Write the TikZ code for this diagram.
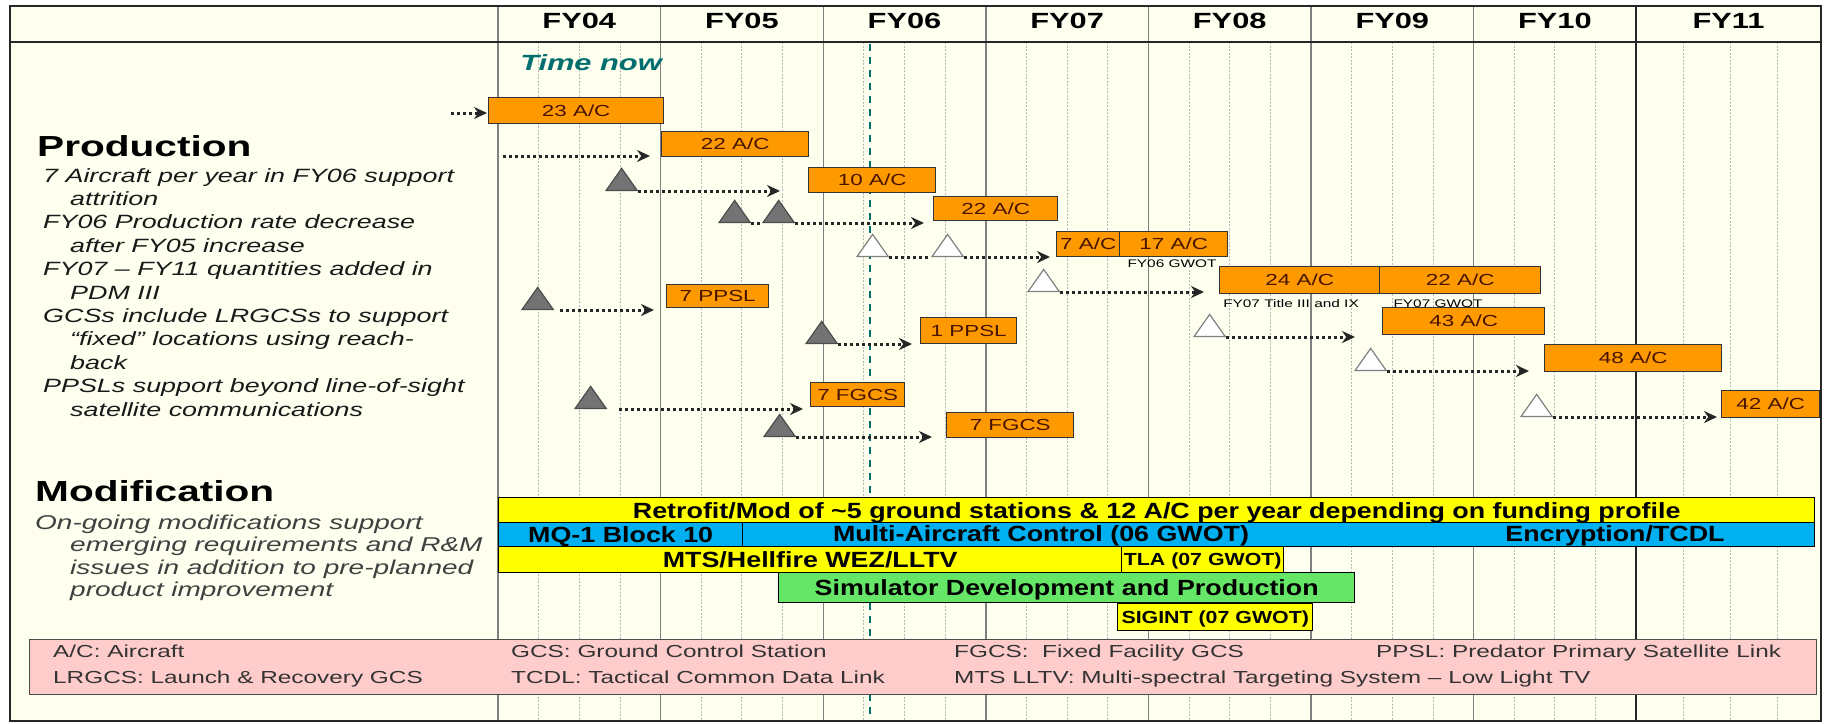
\documentclass[tikz,border=0pt]{standalone}
\usepackage{fontspec}
\setmainfont{Liberation Sans}[FakeStretch=1.4]
\newfontfamily\barfont{Liberation Sans}[FakeStretch=1.22]
\usepackage{tikz}
\usetikzlibrary{arrows.meta}
\usetikzlibrary{shapes.geometric}
\definecolor{chartbg}{RGB}{255,255,240}
\definecolor{barorange}{RGB}{255,153,0}
\definecolor{boxtext}{RGB}{70,20,0}
\definecolor{nowteal}{RGB}{0,110,110}
\definecolor{modyellow}{RGB}{255,255,0}
\definecolor{modblue}{RGB}{0,176,240}
\definecolor{modgreen}{RGB}{102,230,102}
\definecolor{keypink}{RGB}{255,204,204}

\begin{document}
\begin{tikzpicture}[x=1pt, y=-1pt,
    acbox/.style={draw=black!80, line width=1.4pt, fill=barorange, anchor=north west, inner sep=0pt, text=boxtext, text height=11.5pt, text depth=0pt, font=\fontsize{16}{18}\selectfont},
    modbar/.style={draw=black, line width=1.4pt, anchor=north west, inner sep=0pt, text height=15.7pt, text depth=0pt, font=\barfont\bfseries\fontsize{22}{24}\selectfont},
    smallbar/.style={modbar, text height=12.5pt, font=\barfont\bfseries\fontsize{17.5}{19}\selectfont},
    bartext/.style={inner sep=0pt, text height=15.7pt, text depth=0pt, font=\barfont\bfseries\fontsize{22}{24}\selectfont},
    darktri/.style={isosceles triangle, shape border rotate=90, isosceles triangle stretches, minimum width=31pt, minimum height=22pt, inner sep=0pt, anchor=left corner, line width=1.2pt, draw=black!70, fill=black!55},
    whitetri/.style={darktri, draw=black!50, fill=white},
    flow/.style={-{Stealth[length=13pt,width=12pt]}, line width=3pt, dash pattern=on 3pt off 3pt, draw=black!85},
    link/.style={line width=3pt, dash pattern=on 3pt off 3pt, draw=black!85},
    yearline/.style={draw=black!50, line width=1.4pt},
    qline/.style={draw=black!28, line width=0.9pt, dash pattern=on 2pt off 1.5pt},
    yearlabel/.style={inner sep=0pt, text height=15.7pt, text depth=0pt, font=\bfseries\fontsize{22}{24}\selectfont},
    note/.style={inner sep=0pt, text height=7.9pt, text depth=0pt, font=\fontsize{11}{12}\selectfont},
    keytext/.style={anchor=west, inner sep=0pt, text height=12.5pt, text depth=0pt, text=black!80, font=\fontsize{17.4}{19}\selectfont},
    heading/.style={anchor=base west, inner sep=0pt, font=\bfseries\fontsize{29}{32}\selectfont},
    ]
    \useasboundingbox (0,0) rectangle (1828,723);
    \fill[white] (0,0) rectangle (1828,723);
    \fill[chartbg] (10,6) rectangle (1821,721);

    \foreach \k in {0,...,6}
        \foreach \q in {1,2,3}
            \draw[qline] ({498+162.6*\k+40.65*\q},42) -- ++(0,679);
    \foreach \q in {1,2,3}
        \draw[qline] ({1636+47*\q},42) -- ++(0,679);
    \foreach \k in {0,...,7}
        \draw[yearline] ({498+162.6*\k},6) -- ++(0,715);
    \draw[line width=2.4pt, draw=black!85] (1636,6) -- (1636,721);
    \draw[line width=2pt, draw=black!85] (10,42) -- (1821,42);
    \draw[nowteal, line width=2pt, dash pattern=on 7pt off 6pt] (870,44) -- (870,721);

    \foreach \yr [count=\k from 0] in {FY04,FY05,FY06,FY07,FY08,FY09,FY10}
        \node[yearlabel] (\yr) at ({579.3+162.6*\k},21) {\yr};
    \node[yearlabel] (FY11) at (1728.5,21) {FY11};
    \node[anchor=base, inner sep=0pt, text=nowteal, font=\bfseries\itshape\fontsize{22}{24}\selectfont] (now) at (591,70) {Time now};

    \node[heading] (prod) at (37,156) {Production};
    \node[anchor=north west, inner sep=0pt, align=left, text=black!90, font=\itshape\fontsize{19.2}{23.4}\selectfont] (prodnotes) at (43,168)
        {7 Aircraft per year in FY06 support\\
         \hspace*{27pt}attrition\\
         FY06 Production rate decrease\\
         \hspace*{27pt}after FY05 increase\\
         FY07 -- FY11 quantities added in\\
         \hspace*{27pt}PDM III\\
         GCSs include LRGCSs to support\\
         \hspace*{27pt}“fixed” locations using reach-\\
         \hspace*{27pt}back\\
         PPSLs support beyond line-of-sight\\
         \hspace*{27pt}satellite communications};
    \node[heading] (mod) at (35,501) {Modification};
    \node[anchor=north west, inner sep=0pt, align=left, text=black!75, font=\itshape\fontsize{20}{22.2}\selectfont] (modnotes) at (35,515)
        {On-going modifications support\\
         \hspace*{35pt}emerging requirements and R\&M\\
         \hspace*{35pt}issues in addition to pre-planned\\
         \hspace*{35pt}product improvement};

    \node[acbox, minimum width=175pt, minimum height=26pt] (b1) at (488,97) {23 A/C};
    \node[acbox, minimum width=147pt, minimum height=25pt] (b2) at (661,131) {22 A/C};
    \node[acbox, minimum width=127pt, minimum height=25pt] (b3) at (808,167) {10 A/C};
    \node[acbox, minimum width=124pt, minimum height=24pt] (b4) at (933,196) {22 A/C};
    \node[acbox, minimum width=63pt, minimum height=25pt] (b5) at (1056,231) {7 A/C};
    \node[acbox, minimum width=108pt, minimum height=25pt] (b6) at (1119,231) {17 A/C};
    \node[acbox, minimum width=160pt, minimum height=27pt] (b7) at (1219,266) {24 A/C};
    \node[acbox, minimum width=161pt, minimum height=27pt] (b8) at (1379,266) {22 A/C};
    \node[acbox, minimum width=162pt, minimum height=27pt] (b9) at (1382,307) {43 A/C};
    \node[acbox, minimum width=177pt, minimum height=27pt] (b10) at (1544,344) {48 A/C};
    \node[acbox, minimum width=98pt, minimum height=27pt] (b11) at (1721,390) {42 A/C};
    \node[acbox, minimum width=102pt, minimum height=23pt] (p1) at (666,284) {7 PPSL};
    \node[acbox, minimum width=96pt, minimum height=26pt] (p2) at (920,317) {1 PPSL};
    \node[acbox, minimum width=94pt, minimum height=24pt] (f1) at (810,382) {7 FGCS};
    \node[acbox, minimum width=127pt, minimum height=25pt] (f2) at (946,412) {7 FGCS};

    \node[note] (gwot6) at (1172,264) {FY06 GWOT};
    \node[note] (title7) at (1291,304) {FY07 Title III and IX};
    \node[note] (gwot7) at (1438,304) {FY07 GWOT};

    \node[darktri] (t1) at (605,191) {};
    \node[darktri] (t2a) at (718,223) {};
    \node[darktri] (t2b) at (762,223) {};
    \node[whitetri] (w1a) at (856,257) {};
    \node[whitetri] (w1b) at (931,257) {};
    \node[whitetri] (w2) at (1027,292) {};
    \node[whitetri] (w3) at (1193,337) {};
    \node[whitetri] (w4) at (1354,371) {};
    \node[whitetri] (w5) at (1520,417) {};
    \node[darktri] (t3) at (521,310) {};
    \node[darktri] (t4) at (805,344) {};
    \node[darktri] (t5) at (574,409) {};
    \node[darktri] (t6) at (763,437) {};

    \coordinate (s0) at (451,113);
    \coordinate (s1) at (503,156);
    \draw[flow, shorten >=1pt] (s0) -- (s0 -| b1.west);
    \draw[flow, shorten >=11pt] (s1) -- (s1 -| b2.west);
    \draw[flow, shorten >=28pt] (t1.right corner) -- (t1.right corner -| b3.west);
    \draw[link] (t2a.right corner) -- (t2b.left corner);
    \draw[flow, shorten >=9pt] (t2b.right corner) -- (t2b.right corner -| b4.west);
    \draw[link] (w1a.right corner) -- (w1b.left corner);
    \draw[flow, shorten >=6pt] (w1b.right corner) -- (w1b.right corner -| b5.west);
    \draw[flow, shorten >=15pt] (w2.right corner) -- (w2.right corner -| b7.west);
    \draw[flow, shorten >=27pt] (w3.right corner) -- (w3.right corner -| b9.west);
    \draw[flow, shorten >=15pt] (w4.right corner) -- (w4.right corner -| b10.west);
    \draw[flow, shorten >=4pt] (w5.right corner) -- (w5.right corner -| b11.west);
    \draw[flow, shorten <=6pt, shorten >=12pt] (t3.right corner) -- (t3.right corner -| p1.west);
    \draw[flow, shorten >=8pt] (t4.right corner) -- (t4.right corner -| p2.west);
    \draw[flow, shorten <=12pt, shorten >=7pt] (t5.right corner) -- (t5.right corner -| f1.west);
    \draw[flow, shorten >=14pt] (t6.right corner) -- (t6.right corner -| f2.west);

    \node[modbar, fill=modyellow, minimum width=1316pt, minimum height=25pt] (m1) at (498,497) {Retrofit/Mod of \textasciitilde5 ground stations \& 12 A/C per year depending on funding profile};
    \node[modbar, fill=modblue, minimum width=244pt, minimum height=24pt] (m2a) at (498,522) {MQ-1 Block 10};
    \node[modbar, fill=modblue, minimum width=1072pt, minimum height=24pt] (m2b) at (742,522) {};
    \node[bartext] (mac) at (1041,534) {Multi-Aircraft Control (06 GWOT)};
    \node[bartext] (enc) at (1615,534) {Encryption/TCDL};
    \node[modbar, fill=modyellow, minimum width=623pt, minimum height=26pt] (m3a) at (498,546) {MTS/Hellfire WEZ/LLTV};
    \node[smallbar, fill=modyellow, minimum width=162pt, minimum height=26pt] (m3b) at (1121,546) {TLA (07 GWOT)};
    \node[modbar, fill=modgreen, minimum width=576pt, minimum height=30pt] (m4) at (778,572) {Simulator Development and Production};
    \node[smallbar, fill=modyellow, minimum width=195pt, minimum height=27pt] (m5) at (1117,603) {SIGINT (07 GWOT)};

    \node[draw=black!70, line width=1.4pt, fill=keypink, anchor=north west, minimum width=1787pt, minimum height=55pt, inner sep=0pt] (key) at (29,639) {};
    \node[keytext] (k1) at (53,651) {A/C: Aircraft};
    \node[keytext] (k2) at (511,651) {GCS: Ground Control Station};
    \node[keytext] (k3) at (954,651) {FGCS:\ \ Fixed Facility GCS};
    \node[keytext] (k4) at (1376,651) {PPSL: Predator Primary Satellite Link};
    \node[keytext] (k5) at (53,677) {LRGCS: Launch \& Recovery GCS};
    \node[keytext] (k6) at (511,677) {TCDL: Tactical Common Data Link};
    \node[keytext] (k7) at (954,677) {MTS LLTV: Multi-spectral Targeting System -- Low Light TV};

    \draw[line width=2.5pt, draw=black!85] (10,6) rectangle (1821,721);
\end{tikzpicture}
\end{document}
